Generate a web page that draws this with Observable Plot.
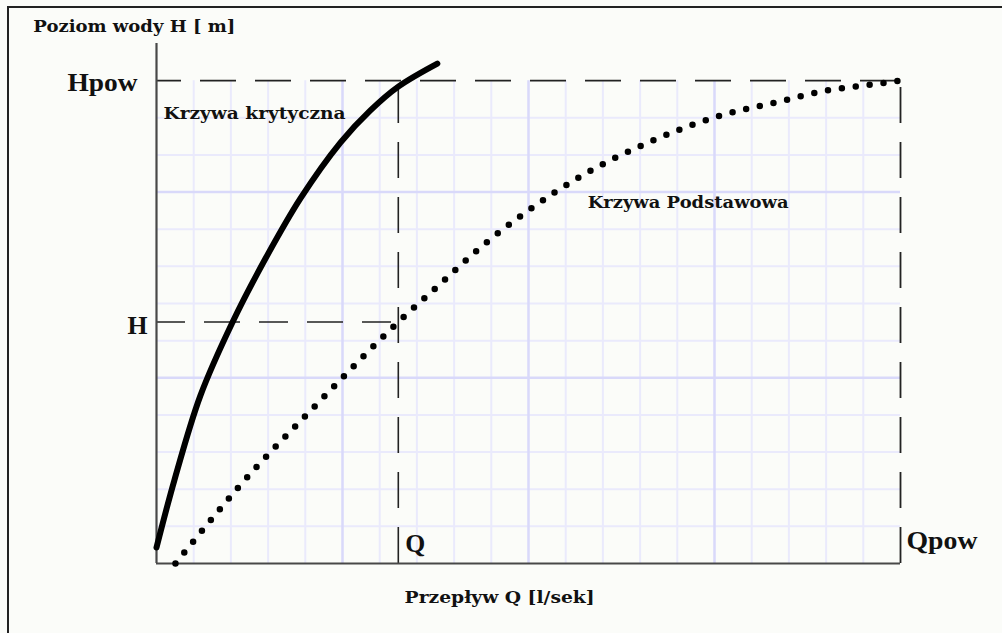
<!DOCTYPE html>
<html>
<head>
<meta charset="utf-8">
<script src="https://cdn.jsdelivr.net/npm/d3@7"></script>
<script src="https://cdn.jsdelivr.net/npm/@observablehq/plot@0.6"></script>
<style>
  html, body { margin: 0; padding: 0; background: #fbfcf9; }
  #wrap { position: relative; width: 1002px; height: 633px; overflow: hidden; }
  #border { position: absolute; left: 7px; top: 6px; width: 1100px; height: 700px;
            border-left: 2px solid #222; border-top: 2px solid #222; }
  #chart { position: absolute; left: 0; top: 0; }
</style>
</head>
<body>
<div id="wrap"><div id="border"></div><div id="chart"></div></div>
<script>
// Reference values (in grid units)
const Q = 6.5, H = 6.5, Qpow = 20, Hpow = 13, Hmax = 14;

// Krzywa krytyczna (solid curve)
const critQ = [0, 0.48, 1.18, 2.04, 2.93, 3.87, 4.95, 5.75, 6.5, 7.55];
const critH = [0.43, 2.24, 4.52, 6.49, 8.21, 9.83, 11.34, 12.2, 12.84, 13.46];

// Krzywa Podstawowa (dotted curve)
const baseQ = [0.51, 1.32, 2.20, 4.35, 6.5, 7.61, 8.71, 9.92, 11.45, 13.28, 15.16, 16.77, 18.04, 18.79, 20];
const baseH = [0, 1.00, 2.05, 4.33, 6.5, 7.51, 8.51, 9.45, 10.45, 11.36, 12.06, 12.44, 12.74, 12.84, 13];

// Grid lines
const gridQMinor = [1, 2, 3, 4, 6, 7, 8, 9, 11, 12, 13, 14, 16, 17, 18, 19];
const gridQMajor = [5, 10, 15];
const gridHMinor = [1, 2, 3, 4, 6, 7, 8, 9, 11, 12];
const gridHMajor = [5, 10];

// Text labels
const labelText = ["Poziom wody H [ m]", "Krzywa krytyczna", "Krzywa Podstawowa", "Przepływ Q [l/sek]", "Hpow", "H", "Q", "Qpow"];
const labelQ = [-3.31, 0.19, 11.59, 6.67, -0.51, -0.24, 6.69, 20.16];
const labelH = [14.32, 11.98, 9.56, -1.05, 12.71, 6.19, 0.32, 0.40];
const labelWidth = [202, 182, 201, 190, 70, 20, 20, 71];

const crit = critQ.map((q, i) => ({q, h: critH[i]}));
const base = baseQ.map((q, i) => ({q, h: baseH[i]}));
const labels = labelText.map((t, i) => ({t, q: labelQ[i], h: labelH[i], w: labelWidth[i]}));
const boldLabels = labels.slice(0, 4);
const bigEnd = labels.slice(4, 6);
const bigStart = labels.slice(6, 8);

const dash = "36,19";
const minorC = "#eaeafc", majorC = "#d9d9fa";

const chart = Plot.plot({
  width: 1002, height: 633,
  marginLeft: 156, marginRight: 102, marginTop: 43, marginBottom: 70,
  x: {domain: [0, Qpow], axis: null},
  y: {domain: [0, Hmax], axis: null},
  style: {background: "transparent", overflow: "visible"},
  marks: [
    Plot.ruleX(gridQMinor, {x: d => d, y1: 0, y2: Hpow, stroke: minorC, strokeWidth: 2}),
    Plot.ruleY(gridHMinor, {y: d => d, x1: 0, x2: Qpow, stroke: minorC, strokeWidth: 2}),
    Plot.ruleX(gridQMajor, {x: d => d, y1: 0, y2: Hpow, stroke: majorC, strokeWidth: 2.5}),
    Plot.ruleY(gridHMajor, {y: d => d, x1: 0, x2: Qpow, stroke: majorC, strokeWidth: 2.5}),
    // dashed reference lines
    Plot.ruleY([Hpow], {y: d => d, x1: 0, x2: Qpow, stroke: "#222", strokeWidth: 1.8, strokeDasharray: dash, strokeDashoffset: 11}),
    Plot.ruleY([H], {y: d => d, x1: 0, x2: Q, stroke: "#222", strokeWidth: 1.6, strokeDasharray: "29,19,36,19"}),
    Plot.ruleX([Q], {x: d => d, y1: 0, y2: Hpow, stroke: "#222", strokeWidth: 1.6, strokeDasharray: dash}),
    Plot.ruleX([Qpow], {x: d => d, y1: 0, y2: Hpow, stroke: "#222", strokeWidth: 1.8, strokeDasharray: dash}),
    // axes
    Plot.ruleX([0], {y1: 0, y2: Hmax, stroke: "#484848", strokeWidth: 2.2}),
    Plot.ruleY([0], {x1: 0, x2: Qpow, stroke: "#484848", strokeWidth: 2.2}),
    // curves
    Plot.line(crit, {x: "q", y: "h", stroke: "#000", strokeWidth: 6, strokeLinecap: "round", curve: "catmull-rom"}),
    Plot.line(base, {x: "q", y: "h", stroke: "#000", strokeWidth: 6.5, strokeLinecap: "round", strokeDasharray: "0,14", curve: "monotone-x"}),
    // labels
    Plot.text(boldLabels, {x: "q", y: "h", text: "t", textAnchor: "start", lineAnchor: "bottom",
      fontFamily: "DejaVu Serif", fontWeight: "bold", fontSize: 16, fill: "#111"}),
    Plot.text(bigEnd, {x: "q", y: "h", text: "t", textAnchor: "end", lineAnchor: "bottom",
      fontFamily: "Liberation Serif", fontWeight: "bold", fontSize: 25, fill: "#111"}),
    Plot.text(bigStart, {x: "q", y: "h", text: "t", textAnchor: "start", lineAnchor: "bottom",
      fontFamily: "Liberation Serif", fontWeight: "bold", fontSize: 25, fill: "#111"})
  ]
});

const widthByText = new Map(labels.map(l => [l.t, l.w]));
d3.select(chart).selectAll("text").each(function() {
  const w = widthByText.get(this.textContent);
  if (w) { this.setAttribute("textLength", w); this.setAttribute("lengthAdjust", "spacingAndGlyphs"); }
});

document.getElementById("chart").appendChild(chart);
</script>
</body>
</html>
